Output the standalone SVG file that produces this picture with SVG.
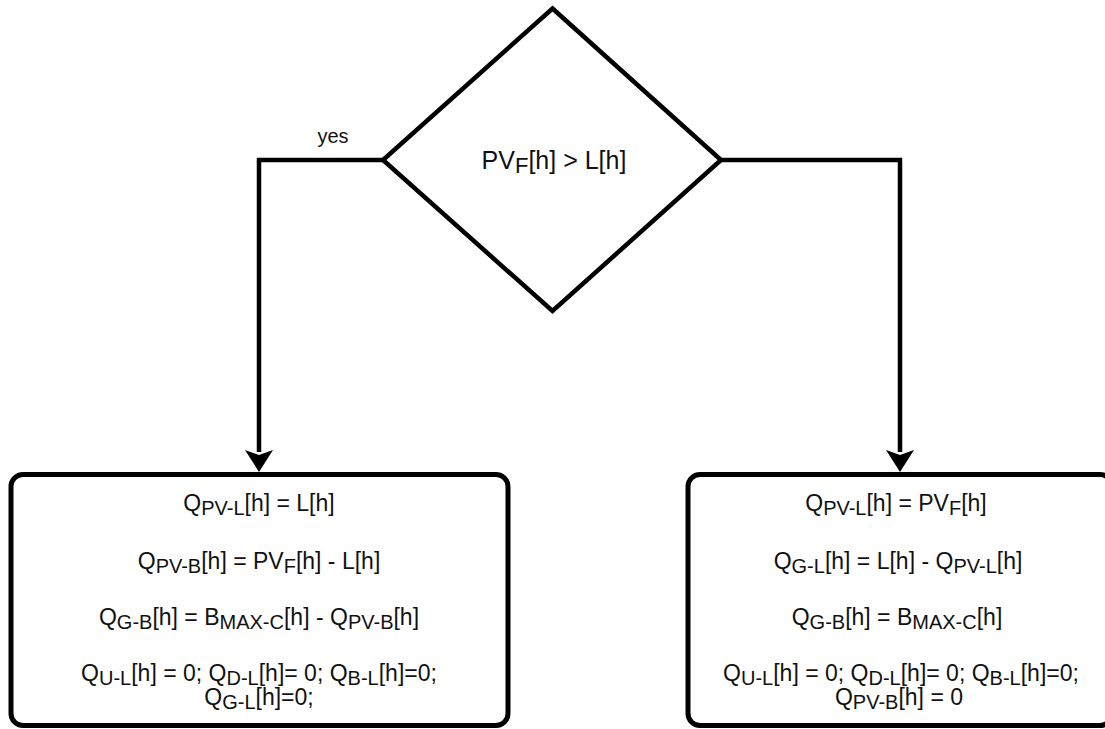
<svg xmlns="http://www.w3.org/2000/svg" width="1105" height="729" viewBox="0 0 1105 729">
  <style>
    .shape { fill: #ffffff; stroke: #000000; }
    .edge { fill: none; stroke: #000000; stroke-width: 4.5; }
    .head { fill: #000000; }
    .t { font-family: "Liberation Sans", Arial, sans-serif; fill: #111111; text-anchor: middle; }
    .box { font-size: 23px; }
    .box .s { font-size: 20px; }
    .dec { font-size: 25px; }
    .dec .s { font-size: 22px; }
    .lbl { font-size: 20px; }
  </style>
  <rect width="1105" height="729" fill="#ffffff"/>

  <!-- connectors -->
  <g id="connectors">
    <path class="edge" d="M383,160 H259 V452"/>
    <path class="head" d="M259,472 L245,450 L259,455 L273,450 Z"/>
    <path class="edge" d="M721,160 H900 V452"/>
    <path class="head" d="M900,472 L886,450 L900,455 L914,450 Z"/>
    <text class="t lbl" x="333" y="143">yes</text>
  </g>

  <!-- decision -->
  <g id="decision">
    <polygon class="shape" stroke-width="4.5" points="552.5,8.5 721,160 552.5,311 383,160"/>
    <text class="t dec" x="554" y="169">PV<tspan class="s" dy="4">F</tspan><tspan dy="-4">[h] &gt; L[h]</tspan></text>
  </g>

  <!-- yes branch -->
  <g id="box-yes">
    <rect class="shape" stroke-width="5" x="11" y="474.5" width="497" height="251" rx="12" ry="12"/>
    <text class="t box" x="259" y="511">Q<tspan class="s" dy="4">PV-L</tspan><tspan dy="-4">[h] = L[h]</tspan></text>
    <text class="t box" x="259" y="569">Q<tspan class="s" dy="4">PV-B</tspan><tspan dy="-4">[h] = PV</tspan><tspan class="s" dy="4">F</tspan><tspan dy="-4">[h] - L[h]</tspan></text>
    <text class="t box" x="259" y="625">Q<tspan class="s" dy="4">G-B</tspan><tspan dy="-4">[h] = B</tspan><tspan class="s" dy="4">MAX-C</tspan><tspan dy="-4">[h] - Q</tspan><tspan class="s" dy="4">PV-B</tspan><tspan dy="-4">[h]</tspan></text>
    <text class="t box" x="259" y="681">Q<tspan class="s" dy="4">U-L</tspan><tspan dy="-4">[h] = 0; Q</tspan><tspan class="s" dy="4">D-L</tspan><tspan dy="-4">[h]= 0; Q</tspan><tspan class="s" dy="4">B-L</tspan><tspan dy="-4">[h]=0;</tspan></text>
    <text class="t box" x="259" y="705">Q<tspan class="s" dy="4">G-L</tspan><tspan dy="-4">[h]=0;</tspan></text>
  </g>

  <!-- no branch -->
  <g id="box-no">
    <rect class="shape" stroke-width="5" x="688" y="474.5" width="424" height="251" rx="12" ry="12"/>
    <text class="t box" x="896" y="511">Q<tspan class="s" dy="4">PV-L</tspan><tspan dy="-4">[h] = PV</tspan><tspan class="s" dy="4">F</tspan><tspan dy="-4">[h]</tspan></text>
    <text class="t box" x="898" y="569">Q<tspan class="s" dy="4">G-L</tspan><tspan dy="-4">[h] = L[h] - Q</tspan><tspan class="s" dy="4">PV-L</tspan><tspan dy="-4">[h]</tspan></text>
    <text class="t box" x="897" y="625">Q<tspan class="s" dy="4">G-B</tspan><tspan dy="-4">[h] =  B</tspan><tspan class="s" dy="4">MAX-C</tspan><tspan dy="-4">[h]</tspan></text>
    <text class="t box" x="901" y="681">Q<tspan class="s" dy="4">U-L</tspan><tspan dy="-4">[h] = 0; Q</tspan><tspan class="s" dy="4">D-L</tspan><tspan dy="-4">[h]= 0; Q</tspan><tspan class="s" dy="4">B-L</tspan><tspan dy="-4">[h]=0;</tspan></text>
    <text class="t box" x="899" y="705">Q<tspan class="s" dy="4">PV-B</tspan><tspan dy="-4">[h] = 0</tspan></text>
  </g>
</svg>
